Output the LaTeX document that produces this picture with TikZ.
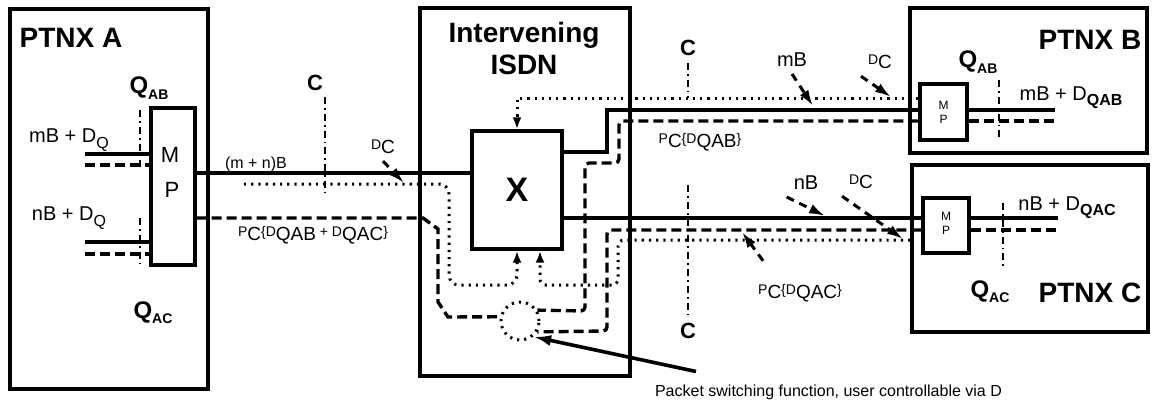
\documentclass[tikz,border=0pt]{standalone}
\usepackage{fontspec}
\setmainfont{Liberation Sans}
\usetikzlibrary{arrows.meta}
\tikzset{>={Latex[length=6pt,width=4.5pt]}}
\tikzset{
  box/.style={draw, line width=1.7pt, inner sep=0pt},
  sig/.style={line width=1.7pt},
  dsig/.style={line width=1.7pt, dash pattern=on 5pt off 2.5pt},
  dotsig/.style={line width=1.5pt, dash pattern=on 1.1pt off 2.5pt},
  cline/.style={line width=1.3pt, dash pattern=on 3.5pt off 2pt on 0.9pt off 2pt},
  ttl/.style={font=\fontsize{14}{16}\selectfont\bfseries},
  lbl/.style={font=\fontsize{10}{12}\selectfont},
  sml/.style={font=\fontsize{8}{9}\selectfont},
  pcf/.style={font=\fontsize{7}{8}\selectfont},
  cut/.style={font=\fontsize{11}{12}\selectfont\bfseries},
  ptr/.style={line width=1.5pt, dash pattern=on 4pt off 3pt, -{Latex[length=8pt,width=5pt]}},
}
\newcommand{\lowsub}[1]{\raisebox{-0.5ex}{#1}}
\newcommand{\bsub}[1]{\raisebox{-0.6ex}{\fontsize{9.5}{10}\selectfont #1}}
\newcommand{\qlab}[1]{{\fontsize{12}{14}\selectfont\bfseries Q}\lowsub{\fontsize{7}{8}\selectfont\bfseries #1}}

\begin{document}
\begin{tikzpicture}[x=0.5pt,y=-0.5pt]
  \useasboundingbox (0,0) rectangle (1155,403);
  % boxes
  \node[box, minimum width=99pt, minimum height=190pt] (PA) at (109,199) {};
  \node[box, minimum width=22pt, minimum height=78.5pt] (MA) at (173,186.5) {};
  \node[box, minimum width=105pt, minimum height=184pt] (I) at (525,192) {};
  \node[box, minimum width=45pt, minimum height=59pt] (X) at (517,190) {};
  \node[box, minimum width=118.5pt, minimum height=72.5pt] (PB) at (1028.5,80.5) {};
  \node[box, minimum width=23.5pt, minimum height=28pt] (MB) at (943.5,112) {};
  \node[box, minimum width=118pt, minimum height=83.5pt] (PC) at (1030,248.5) {};
  \node[box, minimum width=23pt, minimum height=27.5pt] (MC) at (946,225.5) {};
  \node[draw, circle, dotsig, minimum size=19pt, inner sep=0pt] (S) at (520,321) {};

  % titles
  \node[ttl] (TA) at (71,38) {PTNX A};
  \node[ttl, align=center] (TI) at (524,48) {Intervening\\ISDN};
  \node[ttl] (TB) at (1090,40) {PTNX B};
  \node[ttl] (TC) at (1090,293) {PTNX C};
  \node[font=\fontsize{17}{20}\selectfont\bfseries] (TX) at (X) {X};
  \node[font=\fontsize{11}{12}\selectfont] (MA1) at (170,155) {M};
  \node[font=\fontsize{11}{12}\selectfont] (MA2) at (172,190) {P};
  \node[font=\fontsize{6}{7}\selectfont, align=center] (MB1) at (MB) {M\\P};
  \node[font=\fontsize{6}{7}\selectfont, align=center] (MC1) at (946,223.5) {M\\P};

  % labels
  \node (QA1) at (149,88) {\qlab{AB}};
  \node (QA2) at (153,313) {\qlab{AC}};
  \node (QB) at (978,62) {\qlab{AB}};
  \node (QC) at (990,292) {\qlab{AC}};
  \node[lbl] (LA1) at (69,140) {mB + D\lowsub{\fontsize{8}{9}\selectfont Q}};
  \node[lbl] (LA2) at (69,218) {nB + D\lowsub{\fontsize{8}{9}\selectfont Q}};
  \node[lbl] (LB) at (1071,98) {mB + D\lowsub{\fontsize{8}{9}\selectfont\bfseries QAB}};
  \node[lbl] (LC) at (1067,208) {nB + D\lowsub{\fontsize{8}{9}\selectfont\bfseries QAC}};
  \node[sml] (LAB) at (256,164) {(m + n)B};
  \node[pcf] (LPA) at (313,235) {P\bsub{C}\{D\bsub{QAB} + D\bsub{QAC}\}};
  \node[pcf] (LPB) at (700,142) {P\bsub{C}\{D\bsub{QAB}\}};
  \node[pcf] (LPC) at (800,293) {P\bsub{C}\{D\bsub{QAC}\}};
  \node[pcf] (DC1) at (383,147) {D\bsub{C}};
  \node[pcf] (DC2) at (880,62) {D\bsub{C}};
  \node[pcf] (DC3) at (861,182) {D\bsub{C}};
  \node[lbl] (LMB) at (792,60) {mB};
  \node[lbl] (LNB) at (806,183) {nB};
  \node[cut] (C1) at (315,83) {C};
  \node[cut] (C2) at (688,48) {C};
  \node[cut] (C3) at (688,331) {C};
  \node[sml, anchor=west] (PS) at (648,392) {Packet switching function, user controllable via D};

  % PTNX A side
  \coordinate (a1) at (85,154);
  \coordinate (a2) at (85,165);
  \coordinate (a3) at (85,242);
  \coordinate (a4) at (85,254);
  \draw[sig] (a1) -- (a1 -| MA.west);
  \draw[dsig] (a2) -- (a2 -| MA.west);
  \draw[sig] (a3) -- (a3 -| MA.west);
  \draw[dsig] (a4) -- (a4 -| MA.west);
  \draw[cline] (140,110) -- (140,167);
  \draw[cline] (140,218) -- (140,267);

  % A to ISDN
  \draw[sig] (MA.east |- 0,173) -- (X.west |- 0,173);
  \draw[dotsig, rounded corners=5pt, ->] (244,184) -- (449,184) -- (449,285) -- (517,285) -- (X.south);
  \draw[dsig] (MA.east |- 0,218) -- (423,218) -- (438,229) -- (438,302) -- (448,317) -- (S.168);
  \draw[cline] (325,97) -- (325,193);

  % ISDN to B
  \draw[sig] (X.east |- 0,152) -- (607,152) -- (607,110) -- (MB.west |- 0,110);
  \draw[sig] (MB.east |- 0,110) -- (1055,110);
  \draw[dsig, rounded corners=2pt] (MB.west |- 0,121) -- (619,121) -- (619,163) -- (585,163) -- (585,311) -- (S.32);
  \draw[dsig] (MB.east |- 0,121) -- (1055,121);
  \draw[dotsig, ->] (MB.west |- 0,98) -- (517,98) -- (X.north);
  \draw[cline] (C2.south) -- (688,98);
  \draw[cline] (999,80) -- (999,140);

  % ISDN to C
  \draw[sig] (X.east |- 0,218) -- (MC.west |- 0,218);
  \draw[sig] (MC.east |- 0,218) -- (1058,218);
  \draw[dsig, rounded corners=2pt] (MC.west |- 0,230) -- (607,230) -- (607,331) -- (S.-32);
  \draw[dsig] (MC.east |- 0,230) -- (1058,230);
  \draw[dotsig, rounded corners=3pt, ->] (PC.west |- 0,240) -- (618,240) -- (618,285) -- (540,285) -- (540,0 |- X.south);
  \draw[cline] (688,185) -- (C3.north);
  \draw[cline] (1003,203) -- (1003,270);

  % pointers
  \coordinate (d1) at (404,183);
  \coordinate (d2) at (891,97);
  \coordinate (d3) at (903,239);
  \coordinate (d4) at (813,106);
  \coordinate (d5) at (825,216);
  \coordinate (d6) at (742,232);
  \draw[ptr] (DC1.south) -- (d1);
  \draw[ptr] (DC2.south west) -- (d2);
  \draw[ptr] (DC3.south west) -- (d3);
  \draw[ptr] (LMB.south) -- (d4);
  \draw[ptr] (LNB.south west) -- (d5);
  \draw[ptr] ([shift={(6pt,8pt)}]LPC.north west) -- (d6);
  \draw[line width=1.8pt, -{Latex[length=9pt,width=5.5pt]}] ([xshift=24pt,yshift=3pt]PS.north west) -- (S.-50);
\end{tikzpicture}
\end{document}
